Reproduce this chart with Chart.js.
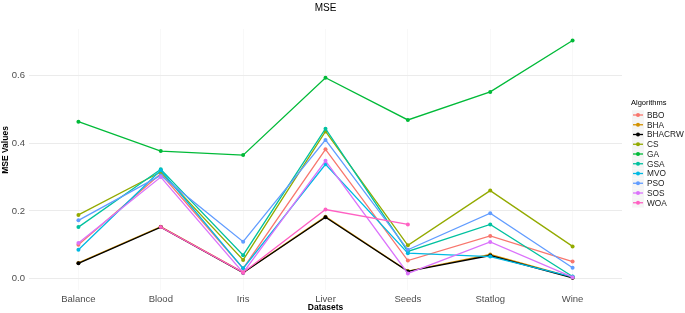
<!DOCTYPE html>
<html><head><meta charset="utf-8">
<script src="https://cdn.jsdelivr.net/npm/chart.js@4"></script>
<style>html,body{margin:0;padding:0;background:#fff}#wrap{width:685px;height:313px;position:relative}</style>
</head><body><div id="wrap"><canvas id="c" width="685" height="313"></canvas></div>
<script>
const categories = ["Balance","Blood","Iris","Liver","Seeds","Statlog","Wine"];
const algorithms = ["BBO","BHA","BHACRW","CS","GA","GSA","MVO","PSO","SOS","WOA"];
const BBO    = [0.100, 0.310, 0.030, 0.382, 0.053, 0.126, 0.050];
const BHA    = [0.046, 0.153, 0.018, 0.183, 0.022, 0.071, 0.003];
const BHACRW = [0.045, 0.152, 0.017, 0.181, 0.021, 0.068, 0.002];
const CS     = [0.188, 0.315, 0.055, 0.435, 0.098, 0.260, 0.095];
const GA     = [0.464, 0.377, 0.365, 0.594, 0.469, 0.552, 0.704];
const GSA    = [0.152, 0.323, 0.069, 0.443, 0.080, 0.160, 0.006];
const MVO    = [0.085, 0.320, 0.030, 0.338, 0.075, 0.065, 0.005];
const PSO    = [0.172, 0.305, 0.109, 0.410, 0.085, 0.193, 0.032];
const SOS    = [0.105, 0.300, 0.017, 0.348, 0.015, 0.108, 0.004];
const WOA    = [null, 0.152, 0.018, 0.204, 0.160, null, null];
const yTicks = [0.0, 0.2, 0.4, 0.6];
const seriesValues = [BBO, BHA, BHACRW, CS, GA, GSA, MVO, PSO, SOS, WOA];
const colors = ["#F8766D","#D39200","#000000","#93AA00","#00BA38","#00C19F","#00B9E3","#619CFF","#DB72FB","#FF61C3"];

const FONT = "'Liberation Sans', Arial, sans-serif";

const datasets = algorithms.map((name, i) => ({
  label: name,
  data: seriesValues[i].map((v, j) => ({x: j, y: v})),
  borderColor: colors[i],
  backgroundColor: colors[i],
  borderWidth: 1.3,
  pointRadius: 2,
  pointBorderWidth: 0,
  pointHoverRadius: 2,
  tension: 0,
  spanGaps: false,
  order: algorithms.length - 1 - i
}));

const decor = {
  id: 'decor',
  afterDraw(chart) {
    const ctx = chart.ctx, ca = chart.chartArea;
    ctx.save();
    ctx.fillStyle = '#000';
    ctx.font = "10px " + FONT;
    ctx.textAlign = 'center';
    ctx.textBaseline = 'middle';
    ctx.fillText('MSE', (ca.left + ca.right) / 2, 8);
    ctx.font = "bold 8.5px " + FONT;
    ctx.fillText('Datasets', (ca.left + ca.right) / 2, 308);
    ctx.save();
    ctx.translate(6, 150);
    ctx.rotate(-Math.PI / 2);
    ctx.fillText('MSE Values', 0, 0);
    ctx.restore();
    ctx.textAlign = 'left';
    ctx.font = "7.5px " + FONT;
    ctx.fillText('Algorithms', 631, 103);
    ctx.font = "8.3px " + FONT;
    algorithms.forEach((name, i) => {
      const y = 115 + i * 9.75;
      ctx.fillStyle = '#F5F5F5';
      ctx.fillRect(632, y - 4.8, 12, 9.6);
      ctx.strokeStyle = colors[i];
      ctx.lineWidth = 1.3;
      ctx.beginPath(); ctx.moveTo(633, y); ctx.lineTo(643, y); ctx.stroke();
      ctx.fillStyle = colors[i];
      ctx.beginPath(); ctx.arc(638, y, 2, 0, Math.PI * 2); ctx.fill();
      ctx.fillStyle = '#1a1a1a';
      ctx.fillText(name, 647, y + 0.5);
    });
    ctx.restore();
  }
};

new Chart(document.getElementById('c'), {
  type: 'line',
  data: { datasets },
  options: {
    responsive: false,
    animation: false,
    events: [],
    layout: { padding: { top: 29, right: 63, left: 0, bottom: 0 } },
    plugins: { legend: { display: false }, title: { display: false }, tooltip: { enabled: false } },
    scales: {
      x: {
        type: 'linear',
        min: -0.6, max: 6.6,
        afterBuildTicks: (s) => { s.ticks = categories.map((_, i) => ({ value: i })); },
        afterFit: (s) => { s.height = 23; },
        ticks: { callback: (v) => categories[v], color: '#4D4D4D', font: { family: FONT, size: 9.5 }, padding: 4, maxRotation: 0, autoSkip: false },
        grid: { color: '#F3F3F3', lineWidth: 0.6, drawTicks: false },
        border: { display: false }
      },
      y: {
        type: 'linear',
        min: -0.034, max: 0.738,
        afterBuildTicks: (s) => { s.ticks = yTicks.map(v => ({ value: v })); },
        afterFit: (s) => { s.width = 29; },
        ticks: { callback: (v) => v.toFixed(1), color: '#4D4D4D', font: { family: FONT, size: 9.5 }, padding: 4 },
        grid: { color: '#EBEBEB', lineWidth: 1, drawTicks: false },
        border: { display: false }
      }
    }
  },
  plugins: [decor]
});
</script></body></html>
